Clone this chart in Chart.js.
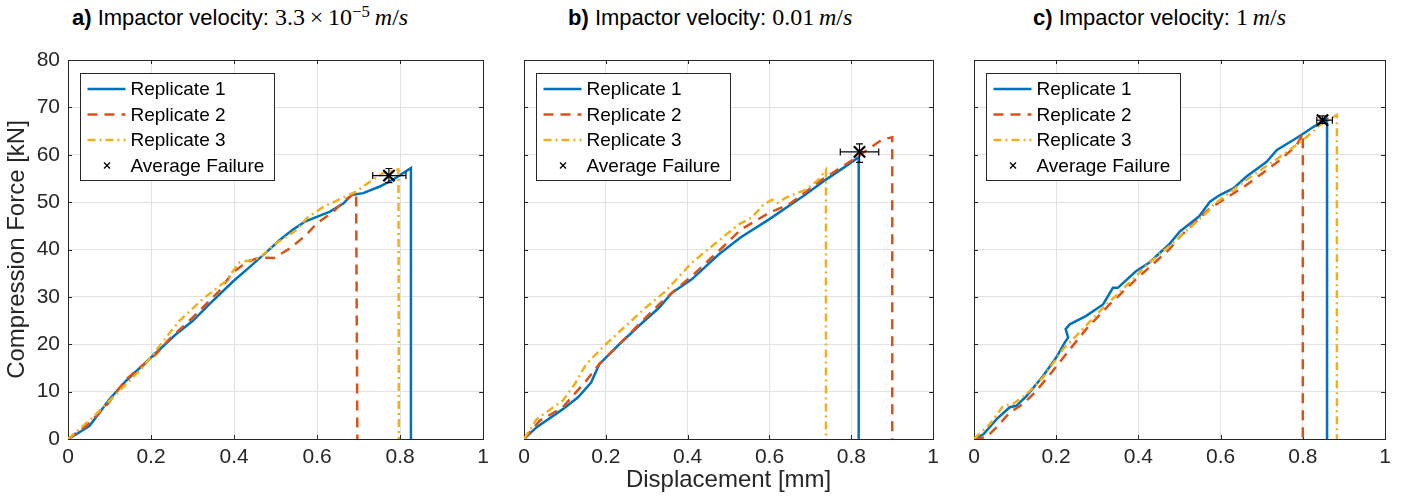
<!DOCTYPE html>
<html>
<head>
<meta charset="utf-8">
<script src="https://cdn.jsdelivr.net/npm/chart.js@4/dist/chart.umd.min.js"></script>
<style>
  body { margin: 0; background: #fff; width: 1406px; height: 499px; position: relative; overflow: hidden;
         font-family: "Liberation Sans", Arial, Helvetica, sans-serif; }
  canvas { position: absolute; top: 0; }
  .ttl { position: absolute; top: 4px; font-size: 22px; line-height: 26px; white-space: nowrap; color: #000; }
  .ttl .m { font-family: "Liberation Serif", "Times New Roman", serif; font-size: 24px; }
  .ttl sup { font-size: 70%; line-height: 0; vertical-align: 0.5em; }
</style>
</head>
<body>
<div class="ttl" style="left:72px"><b>a)</b> Impactor velocity: <span class="m">3.3&thinsp;×&thinsp;10<sup>−5</sup>&thinsp;<i>m</i>/<i>s</i></span></div>
<div class="ttl" style="left:568px"><b>b)</b> Impactor velocity: <span class="m">0.01&thinsp;<i>m</i>/<i>s</i></span></div>
<div class="ttl" style="left:1033px"><b>c)</b> Impactor velocity: <span class="m">1&thinsp;<i>m</i>/<i>s</i></span></div>

<canvas id="panelA" width="495" height="499" style="left:0px"></canvas>
<canvas id="panelB" width="450" height="499" style="left:495px"></canvas>
<canvas id="panelC" width="461" height="499" style="left:945px"></canvas>

<script>
// ---- data (displacement in mm, force in kN) ----
const xTicks = [0, 0.2, 0.4, 0.6, 0.8, 1];
const yTicks = [0, 10, 20, 30, 40, 50, 60, 70, 80];
const seriesNames = ['Replicate 1', 'Replicate 2', 'Replicate 3', 'Average Failure'];

// a) 3.3e-5 m/s
const dispA1  = [0, 0.02, 0.052, 0.1, 0.14, 0.2, 0.26, 0.3, 0.34, 0.398, 0.44, 0.48, 0.51, 0.542, 0.571, 0.599, 0.631, 0.663, 0.683, 0.711, 0.751, 0.784, 0.8, 0.826, 0.826];
const forceA1 = [0, 1, 2.8, 8.4, 12.3, 17.2, 22.1, 24.9, 28.4, 33.3, 36.5, 39.6, 42, 44.2, 45.9, 46.9, 48, 49.7, 51.5, 51.9, 53.3, 54.8, 55.7, 57.2, 0];
const dispA2  = [0, 0.044, 0.092, 0.14, 0.212, 0.244, 0.3, 0.364, 0.396, 0.428, 0.46, 0.496, 0.534, 0.573, 0.599, 0.639, 0.667, 0.694, 0.697];
const forceA2 = [0, 2.8, 7, 12.6, 17.9, 21.1, 25.6, 31.2, 35.1, 37.2, 38.3, 38.2, 40.2, 43, 45.5, 48, 50.4, 52.1, 0];
const dispA3  = [0, 0.06, 0.12, 0.18, 0.22, 0.268, 0.324, 0.38, 0.412, 0.46, 0.5, 0.552, 0.575, 0.615, 0.659, 0.694, 0.727, 0.759, 0.796, 0.797];
const forceA3 = [0, 4.6, 9.8, 15.1, 19.6, 24.9, 29.5, 33.3, 37.2, 38.2, 41.2, 44.2, 46.6, 49, 50.8, 52.2, 54.3, 56.1, 56.9, 0];
const failA = [0.773, 55.6], failDispA = [0.734, 0.814], failForceA = [54.1, 57.1];

// b) 0.01 m/s
const dispB1  = [0, 0.031, 0.095, 0.132, 0.164, 0.184, 0.233, 0.281, 0.33, 0.362, 0.41, 0.475, 0.53, 0.598, 0.688, 0.737, 0.785, 0.818, 0.818];
const forceB1 = [0, 2.5, 6.3, 8.8, 11.9, 15.8, 20, 23.9, 27.7, 30.9, 33.7, 38.9, 42.6, 46.3, 51.6, 54.7, 57.5, 59.5, 0];
const dispB2  = [0, 0.039, 0.095, 0.152, 0.184, 0.233, 0.281, 0.33, 0.362, 0.41, 0.475, 0.53, 0.598, 0.647, 0.728, 0.81, 0.875, 0.9, 0.9];
const forceB2 = [0, 3.9, 6.7, 12.3, 15.8, 20, 24.2, 28.4, 30.9, 34.4, 39.6, 44.2, 47.7, 49.5, 54.7, 59.3, 63.2, 63.7, 0];
const dispB3  = [0, 0.031, 0.095, 0.124, 0.152, 0.2, 0.249, 0.297, 0.346, 0.41, 0.475, 0.525, 0.556, 0.586, 0.606, 0.619, 0.639, 0.688, 0.72, 0.738, 0.738];
const forceB3 = [0, 4.2, 8.1, 11.6, 15.8, 20, 23.9, 27.7, 31.2, 37.2, 41.8, 45.3, 46.7, 49.5, 50.5, 49.8, 50.9, 52.6, 54.7, 56.8, 0];
const failB = [0.82, 60.6], failDispB = [0.773, 0.867], failForceB = [58.4, 62.3];

// c) 1 m/s
const dispC1  = [0, 0.023, 0.055, 0.087, 0.103, 0.128, 0.168, 0.2, 0.221, 0.229, 0.223, 0.233, 0.273, 0.314, 0.338, 0.35, 0.394, 0.426, 0.475, 0.501, 0.548, 0.574, 0.598, 0.631, 0.663, 0.712, 0.737, 0.777, 0.802, 0.826, 0.859, 0.859];
const forceC1 = [0, 1, 4.2, 6.7, 7, 9.1, 13.3, 17.2, 20.4, 21.4, 23.2, 24.2, 26, 28.4, 31.9, 31.9, 35.4, 37.2, 41.1, 43.8, 47, 50.1, 51.5, 52.9, 55.4, 58.5, 61, 63.1, 64.5, 65.9, 67.5, 0];
const dispC2  = [0, 0.031, 0.055, 0.087, 0.12, 0.152, 0.192, 0.233, 0.273, 0.33, 0.394, 0.475, 0.501, 0.574, 0.663, 0.745, 0.785, 0.8, 0.8];
const forceC2 = [0, 0.4, 2.5, 5.6, 7.4, 10.2, 14.4, 18.9, 23.2, 28.4, 33.7, 40, 42.7, 48.7, 53.6, 58.9, 62, 64.5, 0];
const dispC3  = [0, 0.039, 0.071, 0.095, 0.128, 0.168, 0.216, 0.257, 0.314, 0.37, 0.426, 0.49, 0.57, 0.582, 0.663, 0.745, 0.802, 0.842, 0.883, 0.883];
const forceC3 = [0, 3.2, 7, 7.4, 9.5, 13, 18.9, 22.5, 27.7, 32.3, 37.2, 41.8, 48.1, 49.4, 54.7, 59.6, 63.2, 66.3, 68.4, 0];
const failC = [0.848, 67.3], failDispC = [0.834, 0.872], failForceC = [66.6, 68.2];

// ---- styling ----
const repColors = ['#0072BD', '#D95319', '#EDB120'];
const repDashes = [[], [10, 7], [8, 4, 2, 4]];
const sansFont = '"Liberation Sans", Arial, Helvetica, sans-serif';
const axisColor = '#262626';

function pts(xs, ys) { return xs.map((x, i) => ({ x: x, y: ys[i] })); }

// box around the axes with inward ticks on every side (matlab "box on")
const framePlugin = {
    id: 'frame',
    beforeDatasetsDraw(chart) {
        const { ctx, chartArea: a, scales } = chart;
        ctx.save();
        ctx.strokeStyle = axisColor;
        ctx.lineWidth = 1;
        ctx.beginPath();
        xTicks.forEach(v => {
            const px = Math.round(scales.x.getPixelForValue(v)) + 0.5;
            ctx.moveTo(px, a.bottom); ctx.lineTo(px, a.bottom - 4);
            ctx.moveTo(px, a.top); ctx.lineTo(px, a.top + 4);
        });
        yTicks.forEach(v => {
            const py = Math.round(scales.y.getPixelForValue(v)) + 0.5;
            ctx.moveTo(a.left, py); ctx.lineTo(a.left + 4, py);
            ctx.moveTo(a.right, py); ctx.lineTo(a.right - 4, py);
        });
        ctx.stroke();
        ctx.strokeRect(Math.round(a.left) + 0.5, Math.round(a.top) + 0.5, Math.round(a.right - a.left), Math.round(a.bottom - a.top));
        ctx.restore();
    }
};

// legend box in the upper left corner of the axes
const boxLegend = {
    id: 'boxLegend',
    afterDraw(chart) {
        const { ctx, chartArea: a } = chart;
        const x0 = Math.round(a.left) + 12.5, y0 = Math.round(a.top) + 13.5;
        ctx.save();
        ctx.fillStyle = '#fff';
        ctx.fillRect(x0, y0, 194, 107);
        ctx.strokeStyle = axisColor;
        ctx.lineWidth = 1;
        ctx.strokeRect(x0, y0, 194, 107);
        ctx.font = '19px ' + sansFont;
        ctx.textBaseline = 'middle';
        seriesNames.forEach((name, i) => {
            const cy = y0 + 15.5 + i * 25.5;
            if (i < 3) {
                const ds = chart.data.datasets[i];
                ctx.strokeStyle = ds.borderColor;
                ctx.lineWidth = ds.borderWidth;
                ctx.setLineDash(ds.borderDash);
                ctx.beginPath();
                ctx.moveTo(x0 + 7, cy); ctx.lineTo(x0 + 45, cy);
                ctx.stroke();
                ctx.setLineDash([]);
            } else {
                ctx.strokeStyle = '#000';
                ctx.lineWidth = 1.3;
                ctx.beginPath();
                ctx.moveTo(x0 + 23.5, cy - 3); ctx.lineTo(x0 + 29.5, cy + 3);
                ctx.moveTo(x0 + 23.5, cy + 3); ctx.lineTo(x0 + 29.5, cy - 3);
                ctx.stroke();
            }
            ctx.fillStyle = '#000';
            ctx.fillText(name, x0 + 50, cy + 1);
        });
        ctx.restore();
    }
};

function buildPanel(canvasId, reps, fail, failDisp, failForce, geo) {
    const datasets = reps.map((r, i) => ({
        label: seriesNames[i],
        data: pts(r[0], r[1]),
        showLine: true,
        borderColor: repColors[i],
        backgroundColor: repColors[i],
        borderWidth: 2.5,
        borderDash: repDashes[i],
        pointRadius: 0,
        tension: 0,
        order: 3 - i
    }));
    datasets.push({
        label: seriesNames[3], data: [{ x: fail[0], y: fail[1] }], showLine: false,
        pointStyle: 'crossRot', pointRadius: 8, pointBorderWidth: 2.2,
        pointBorderColor: '#000', borderColor: '#000', order: 0
    });
    datasets.push({
        label: 'errDisp', data: [{ x: failDisp[0], y: fail[1] }, { x: failDisp[1], y: fail[1] }], showLine: true,
        borderColor: '#000', borderWidth: 1.2, pointStyle: 'line', pointRotation: 90,
        pointRadius: 3.5, pointBorderWidth: 1.2, pointBorderColor: '#000', order: 0
    });
    datasets.push({
        label: 'errForce', data: [{ x: fail[0], y: failForce[0] }, { x: fail[0], y: failForce[1] }], showLine: true,
        borderColor: '#000', borderWidth: 1.2, pointStyle: 'line', pointRotation: 0,
        pointRadius: 3.5, pointBorderWidth: 1.2, pointBorderColor: '#000', order: 0
    });

    const canvas = document.getElementById(canvasId);
    return new Chart(canvas.getContext('2d'), {
        type: 'scatter',
        data: { datasets: datasets },
        options: {
            responsive: false,
            devicePixelRatio: 1,
            animation: false,
            events: [],
            layout: { padding: { left: 0, top: 60, right: canvas.width - geo.right, bottom: 0 } },
            plugins: { legend: { display: false }, tooltip: { enabled: false } },
            scales: {
                x: {
                    type: 'linear', min: 0, max: 1,
                    afterBuildTicks: s => { s.ticks = xTicks.map(v => ({ value: v })); },
                    afterFit: s => { s.height = 499 - 439; },
                    ticks: { font: { family: sansFont, size: 21 }, color: axisColor, padding: 6, maxRotation: 0, autoSkip: false, callback: v => String(v) },
                    grid: { color: '#e2e2e2', lineWidth: 1, drawTicks: false },
                    border: { display: false },
                    title: { display: geo.xTitle, text: 'Displacement [mm]', color: axisColor, font: { family: sansFont, size: 24 }, padding: { top: 0, bottom: 4 } }
                },
                y: {
                    type: 'linear', min: 0, max: 80,
                    afterBuildTicks: s => { s.ticks = yTicks.map(v => ({ value: v })); },
                    afterFit: s => { s.width = geo.left; },
                    ticks: { display: geo.yLabels, font: { family: sansFont, size: 21 }, color: axisColor, padding: 8, callback: v => String(v) },
                    grid: { color: '#e2e2e2', lineWidth: 1, drawTicks: false },
                    border: { display: false },
                    title: { display: geo.yLabels, text: 'Compression Force [kN]', color: axisColor, font: { family: sansFont, size: 24 }, padding: { top: 3, bottom: 0 } }
                }
            }
        },
        plugins: [framePlugin, boxLegend]
    });
}

buildPanel('panelA', [[dispA1, forceA1], [dispA2, forceA2], [dispA3, forceA3]], failA, failDispA, failForceA,
    { left: 68, right: 484, yLabels: true, xTitle: false });
buildPanel('panelB', [[dispB1, forceB1], [dispB2, forceB2], [dispB3, forceB3]], failB, failDispB, failForceB,
    { left: 29, right: 440, yLabels: false, xTitle: true });
buildPanel('panelC', [[dispC1, forceC1], [dispC2, forceC2], [dispC3, forceC3]], failC, failDispC, failForceC,
    { left: 29, right: 440, yLabels: false, xTitle: false });
</script>
</body>
</html>
